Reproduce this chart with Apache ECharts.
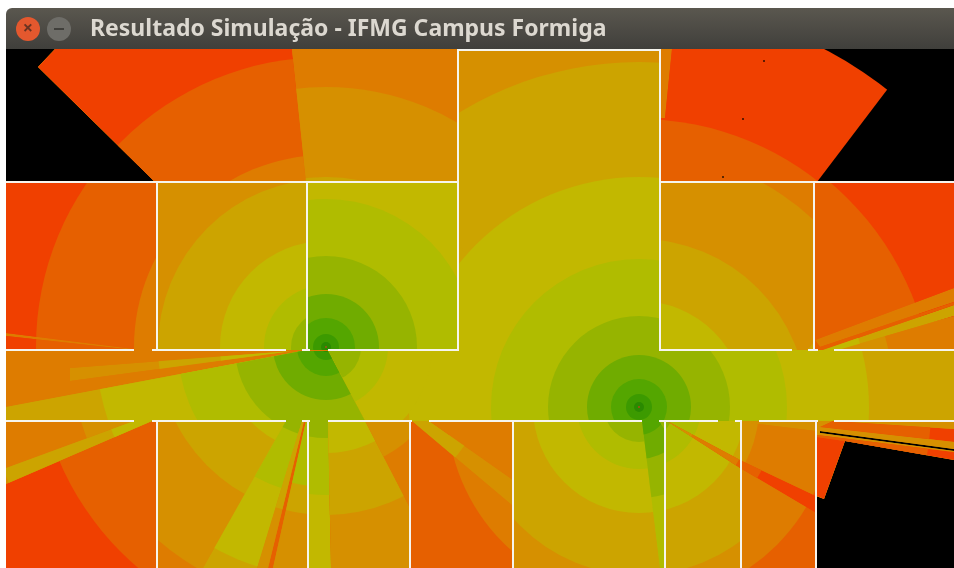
<!DOCTYPE html>
<html>
<head>
<meta charset="utf-8">
<title>Resultado Simulação</title>
<script src="https://cdn.jsdelivr.net/npm/echarts@6/dist/echarts.min.js"></script>
<style>
  html, body { margin: 0; padding: 0; background: #fff; }
  #chart { width: 954px; height: 568px; }
</style>
</head>
<body>
<div id="chart"></div>
<script>
// signal levels, weakest to strongest (last one = no signal)
const levels = ["#f04000", "#e66000", "#de7c00", "#d69000", "#cca400", "#c2b800",
                "#b0bc00", "#96b400", "#70ac00", "#54a600", "#3c9a00", "#2a8a00", "#000000"];
const BLACK = 12;

// access points
const ap1 = [326, 347];
const ap2 = [639, 407];

// radius, level
const openAp1 = [[345, 4], [230, 5], [148, 6], [91, 7], [53, 8], [29, 9], [13, 10], [5, 11]];
const openAp2 = [[345, 4], [230, 5], [148, 6], [91, 7], [52, 8], [28, 9], [13, 10], [5, 11]];
const oneWall = [[256, 3], [168, 4], [106, 5], [62, 6], [35, 7]];
const farRooms = [[290, 1], [192, 2]];

// polygon, base level, [access point, rings]
const zones = [
  // underlay so no dark seams show between neighbouring zones
  [[[6, 49], [954, 49], [954, 568], [6, 568]], 2, []],
  // out of range
  [[[6, 49], [55, 49], [38, 67], [155, 182], [6, 182]], BLACK, []],
  [[[850, 49], [954, 49], [954, 182], [817, 182]], BLACK, []],
  [[[845, 441], [954, 460], [954, 568], [816, 568], [816, 496], [824, 499]], BLACK, []],
  // above the top wall
  [[[55, 49], [292, 49], [306, 182], [155, 182], [38, 67]], 0, [[ap1, [[290, 1], [192, 2], [168, 3]]]]],
  [[[292, 49], [458, 49], [458, 182], [306, 182]], 2, [[ap1, [[260, 3], [170, 4]]]]],
  [[[660, 49], [918, 49], [817, 182], [660, 182]], BLACK, [[ap2, [[403, 0], [288, 1]]]]],
  [[[660, 49], [672, 49], [665, 118], [660, 118]], 2, []],
  // middle hall and corridor
  [[[458, 49], [660, 49], [660, 350], [954, 350], [954, 421], [365, 421], [328, 350], [458, 350]], 3, [[ap2, openAp2], [ap1, oneWall]]],
  // upper rooms
  [[[6, 182], [157, 182], [157, 350], [6, 350]], 0, [[ap1, farRooms]]],
  [[[6, 333], [134, 349], [134, 350], [6, 336]], 2, []],
  [[[157, 182], [307, 182], [307, 350], [157, 350]], 2, [[ap1, oneWall]]],
  [[[307, 182], [458, 182], [458, 350], [307, 350]], 5, [[ap1, openAp1]]],
  [[[660, 182], [814, 182], [814, 350], [660, 350]], 2, [[ap2, [[256, 3], [168, 4], [106, 5]]]]],
  [[[793, 350], [807, 350], [814, 342], [814, 350]], 4, []],
  [[[814, 182], [954, 182], [954, 350], [814, 350]], 0, [[ap2, [[295, 1]]]]],
  [[[825, 350], [954, 316], [954, 350]], 2, [[ap2, [[256, 3]]]]],
  [[[815, 340], [954, 288], [954, 302], [820, 347]], 2, []],
  [[[820, 347], [954, 302], [954, 305], [823, 350]], 1, []],
  [[[823, 350], [954, 305], [954, 316], [838, 350]], 4, [[ap2, [[230, 5]]]]],
  // west part of the corridor
  [[[6, 350], [302, 350], [6, 407]], 2, []],
  [[[70, 368], [292, 351], [70, 381]], 3, [[ap1, [[168, 4], [106, 5]]]]],
  [[[6, 407], [302, 351], [328, 351], [365, 421], [6, 421]], 4, [[ap1, openAp1]]],
  // lower rooms, west
  [[[6, 484], [152, 421], [157, 421], [157, 568], [6, 568]], 0, [[ap1, [[290, 1]]]]],
  [[[6, 421], [134, 421], [6, 468]], 2, [[ap1, [[256, 3]]]]],
  [[[134, 421], [152, 421], [6, 484], [6, 468]], 3, [[ap1, [[345, 4], [230, 5]]]]],
  [[[157, 421], [308, 421], [308, 568], [157, 568]], 2, [[ap1, oneWall]]],
  [[[286, 421], [302, 421], [257, 568], [203, 568]], 4, [[ap1, [[230, 5], [148, 6], [91, 7]]]]],
  [[[302, 421], [306, 421], [272, 568], [257, 568]], 3, [[ap1, [[168, 4]]]]],
  [[[306, 421], [308, 421], [308, 568], [272, 568]], 3, [[ap1, [[168, 4], [140, 6]]]]],
  [[[304, 421], [306, 421], [273, 568], [268, 568]], 1, []],
  [[[309, 421], [328, 421], [331, 568], [309, 568]], 5, [[ap1, [[148, 6], [91, 7]]]]],
  [[[328, 421], [365, 421], [410, 508], [410, 568], [331, 568]], 3, [[ap1, [[168, 4], [106, 5]]]]],
  [[[365, 421], [410, 421], [410, 508]], 2, [[ap1, [[124, 3]]]]],
  [[[410, 421], [513, 421], [513, 568], [410, 568]], 1, [[ap2, [[192, 2]]]]],
  [[[429, 421], [513, 421], [513, 480]], 2, []],
  [[[412, 421], [429, 421], [513, 480], [513, 506]], 3, [[ap1, [[170, 4]]]]],
  // lower rooms, east
  [[[513, 421], [740, 421], [740, 568], [513, 568]], 2, [[ap2, oneWall]]],
  [[[642, 421], [659, 421], [665, 430], [665, 568], [660, 568]], 5, [[ap2, [[170, 6], [91, 7], [52, 8], [28, 9]]]]],
  [[[740, 421], [816, 421], [816, 568], [740, 568]], 1, [[ap2, [[195, 2], [120, 3]]]]],
  [[[742, 422], [816, 421], [816, 431]], 3, []],
  [[[667, 421], [740, 460], [816, 496], [816, 513], [740, 468]], 0, [[ap2, [[138, 1], [113, 2], [60, 3]]]]],
  // rays leaving through the east door
  [[[817, 421], [954, 421], [954, 452], [817, 435]], 3, []],
  [[[833, 421], [954, 429], [954, 442], [820, 427]], 0, [[ap2, [[292, 1]]]]],
  [[[820, 431], [954, 449], [954, 451], [820, 433]], BLACK, []],
  [[[817, 435], [954, 452], [954, 460], [845, 441], [817, 438]], 0, [[ap2, [[292, 1]]]]],
  [[[817, 437], [845, 441], [824, 499], [817, 496]], 0, []]
];

// white walls, [x1, y1, x2, y2]
const walls = [
  [6, 182, 458, 182], [660, 182, 954, 182], [458, 50, 660, 50],
  [458, 49, 458, 351], [660, 49, 660, 351],
  [157, 182, 157, 351], [307, 182, 307, 351], [814, 182, 814, 351],
  [6, 350, 134, 350], [152, 350, 286, 350], [302, 350, 310, 350], [328, 350, 459, 350],
  [659, 350, 792, 350], [808, 350, 818, 350], [834, 350, 954, 350],
  [6, 421, 134, 421], [152, 421, 286, 421], [302, 421, 310, 421], [328, 421, 412, 421],
  [429, 421, 642, 421], [659, 421, 718, 421], [735, 421, 742, 421], [759, 421, 818, 421], [834, 421, 954, 421],
  [157, 421, 157, 568], [308, 421, 308, 568], [410, 421, 410, 568], [513, 421, 513, 568],
  [665, 421, 665, 568], [741, 421, 741, 568], [816, 421, 816, 568]
];

const blackDots = [[764, 61], [743, 119], [723, 177]];
const redDots = [ap1, ap2];

const chart = echarts.init(document.getElementById("chart"));

function renderZone(params, api) {
  const zone = zones[params.dataIndex];
  const rings = [];
  zone[2].forEach(function (set) {
    set[1].forEach(function (r) {
      rings.push({ c: api.coord(set[0]), r: api.size([r[0], 0])[0], level: r[1] });
    });
  });
  // strongest signal wins, so paint weak first
  rings.sort(function (a, b) { return a.level - b.level; });
  const points = zone[0].map(function (p) { return api.coord(p); });
  const children = [{
    type: "polygon",
    shape: { points: points },
    style: { fill: levels[zone[1]] }
  }];
  rings.forEach(function (ring) {
    children.push({
      type: "circle",
      shape: { cx: ring.c[0], cy: ring.c[1], r: ring.r },
      style: { fill: levels[ring.level] }
    });
  });
  return {
    type: "group",
    clipPath: { type: "polygon", shape: { points: points } },
    children: children
  };
}

const options = {
  animation: false,
  backgroundColor: "#fff",
  grid: { left: 0, right: 0, top: 0, bottom: 0 },
  xAxis: { type: "value", min: 0, max: 954, show: false },
  yAxis: { type: "value", min: 0, max: 568, inverse: true, show: false },
  title: {
    text: "Resultado Simulação - IFMG Campus Formiga",
    left: 90,
    top: 18,
    padding: 0,
    textStyle: { color: "#dcd8d0", fontFamily: "Noto Sans", fontWeight: "bold", fontSize: 23 }
  },
  graphic: [
    {
      type: "rect",
      shape: { x: 6, y: 8, width: 948, height: 41, r: [6, 0, 0, 0] },
      style: { fill: new echarts.graphic.LinearGradient(0, 0, 0, 1, [
        { offset: 0, color: "#5a574f" }, { offset: 1, color: "#403f3b" }]) }
    },
    { type: "circle", shape: { cx: 28, cy: 29, r: 12 }, style: { fill: "#e4582e" } },
    { type: "text", style: { x: 28, y: 29, text: "×", fill: "#6b3322", font: "bold 18px Noto Sans", textAlign: "center", textVerticalAlign: "middle" } },
    { type: "circle", shape: { cx: 59, cy: 29, r: 12 }, style: { fill: "#6e6d68" } },
    { type: "rect", shape: { x: 54, y: 28, width: 10, height: 2 }, style: { fill: "#403f3b" } }
  ],
  series: [
    {
      type: "custom",
      coordinateSystem: "cartesian2d",
      clip: false,
      silent: true,
      renderItem: renderZone,
      data: zones.map(function (z, i) { return [i]; })
    },
    {
      type: "lines",
      coordinateSystem: "cartesian2d",
      silent: true,
      lineStyle: { color: "#f6f5ee", width: 2, opacity: 1 },
      data: walls.map(function (w) { return { coords: [[w[0], w[1]], [w[2], w[3]]] }; })
    },
    {
      type: "scatter",
      silent: true,
      symbolSize: 2,
      itemStyle: { color: "#000" },
      data: blackDots
    },
    {
      type: "scatter",
      silent: true,
      symbolSize: 2,
      itemStyle: { color: "#c8401a" },
      data: redDots
    }
  ]
};
chart.setOption(options);
</script>
</body>
</html>
